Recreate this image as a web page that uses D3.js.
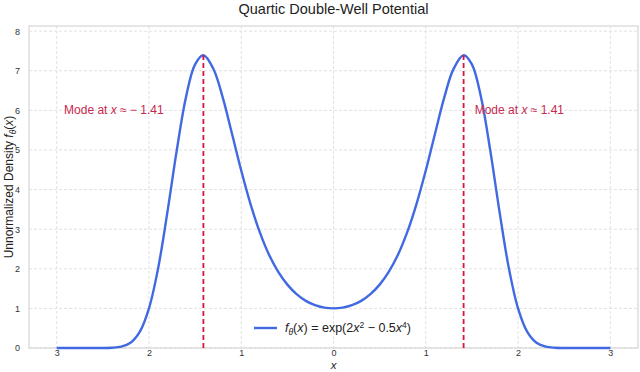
<!DOCTYPE html>
<html>
<head>
<meta charset="utf-8">
<script src="https://cdn.jsdelivr.net/npm/d3@7"></script>
<style>
  body { margin: 0; background: #fff; }
  svg text { font-family: "Liberation Sans", Arial, sans-serif; }
</style>
</head>
<body>
<div id="chart"></div>
<script>
// curve samples (x, unnormalized density)
const xs = [-3, -2.9, -2.8, -2.7, -2.6, -2.5, -2.4, -2.3, -2.2, -2.1, -2, -1.9, -1.8, -1.7, -1.6, -1.5,
    -1.41, -1.3, -1.2, -1.1, -1, -0.9, -0.8, -0.7, -0.6, -0.5, -0.4, -0.3, -0.2, -0.1, 0,
    0.1, 0.2, 0.3, 0.4, 0.5, 0.6, 0.7, 0.8, 0.9, 1, 1.1, 1.2, 1.3, 1.41, 1.5, 1.6, 1.7, 1.8, 1.9,
    2, 2.1, 2.2, 2.3, 2.4, 2.5, 2.6, 2.7, 2.8, 2.9, 3];
const density = [0, 0, 0, 0, 0.0001, 0.0009, 0.006, 0.033, 0.131, 0.405, 1.0, 2.02, 3.43, 4.97, 6.32, 7.16,
    7.39, 7.04, 6.32, 5.41, 4.48, 3.64, 2.93, 2.36, 1.93, 1.60, 1.36, 1.19, 1.08, 1.02, 1.0,
    1.02, 1.08, 1.19, 1.36, 1.60, 1.93, 2.36, 2.93, 3.64, 4.48, 5.41, 6.32, 7.04, 7.39, 7.16, 6.32, 4.97, 3.43, 2.02,
    1.0, 0.405, 0.131, 0.033, 0.006, 0.0009, 0.0001, 0, 0, 0, 0];
const modes = [-1.41, 1.41];
const modePeak = 7.39;
const modeLabels = ["-1.41", "1.41"];
const xTicks = [-3, -2, -1, 0, 1, 2, 3];
const xTickLabels = ["3", "2", "1", "0", "1", "2", "3"];
const yTicks = [0, 1, 2, 3, 4, 5, 6, 7, 8];

const width = 640, height = 372;
const margin = {top: 26, right: 2, bottom: 24, left: 29};
const plotW = width - margin.left - margin.right,
    plotH = height - margin.top - margin.bottom;

const svg = d3.select("#chart").append("svg")
    .attr("width", width)
    .attr("height", height);

const g = svg.append("g")
    .attr("transform", "translate(" + margin.left + "," + margin.top + ")");

const x = d3.scaleLinear().domain([-3.3, 3.3]).range([0, plotW]);
const y = d3.scaleLinear().domain([0, 8.13]).range([plotH, 0]);

// grid
g.append("g").selectAll("line")
    .data(xTicks).enter().append("line")
    .attr("x1", d => x(d)).attr("x2", d => x(d))
    .attr("y1", 0).attr("y2", plotH)
    .attr("stroke", "#d9d9d9").attr("stroke-width", 0.8).attr("stroke-dasharray", "3,2");
g.append("g").selectAll("line")
    .data(yTicks).enter().append("line")
    .attr("x1", 0).attr("x2", plotW)
    .attr("y1", d => y(d)).attr("y2", d => y(d))
    .attr("stroke", "#d9d9d9").attr("stroke-width", 0.8).attr("stroke-dasharray", "3,2");

// frame
g.append("rect")
    .attr("width", plotW).attr("height", plotH)
    .attr("fill", "none").attr("stroke", "#d6d6d6").attr("stroke-width", 1.2);

// axes
const xAxis = g.append("g")
    .attr("transform", "translate(0," + plotH + ")")
    .call(d3.axisBottom(x).tickValues(xTicks).tickSize(0).tickPadding(2)
        .tickFormat((d, i) => xTickLabels[i]));
const yAxis = g.append("g")
    .call(d3.axisLeft(y).tickValues(yTicks).tickSize(0).tickPadding(9)
        .tickFormat(d3.format("d")));
[xAxis, yAxis].forEach(a => {
    a.select(".domain").remove();
    a.selectAll("text").attr("fill", "#333").style("font-size", "9px")
        .style("font-family", "'Liberation Sans', Arial, sans-serif");
});

// curve
const pts = xs.map((v, i) => [v, density[i]]);
const line = d3.line().x(d => x(d[0])).y(d => y(d[1])).curve(d3.curveCatmullRom);
g.append("path")
    .datum(pts)
    .attr("d", line)
    .attr("fill", "none")
    .attr("stroke", "#4169e1")
    .attr("stroke-width", 2.4);

// mode markers
g.selectAll(".mode").data(modes).enter().append("line")
    .attr("class", "mode")
    .attr("x1", d => x(d)).attr("x2", d => x(d))
    .attr("y1", y(0)).attr("y2", y(modePeak))
    .attr("stroke", "#dc143c").attr("stroke-width", 1.8).attr("stroke-dasharray", "5,3");

const modeText = g.selectAll(".modeText").data(modes).enter().append("text")
    .attr("class", "modeText")
    .attr("x", d => d < 0 ? x(-2.92) : x(d + 0.12))
    .attr("y", y(6) + 4)
    .attr("fill", "#c8294f")
    .style("font-size", "12px");
modeText.append("tspan").text("Mode at ");
modeText.append("tspan").attr("font-style", "italic").text("x");
modeText.append("tspan").text((d, i) => " \u2248 " + (modes[i] < 0 ? "\u2212 " + modeLabels[i].slice(1) : modeLabels[i]));

// legend
const lg = g.append("g").attr("transform", "translate(" + (254 - margin.left) + "," + (328 - margin.top) + ")");
lg.append("line").attr("x1", 0).attr("x2", 23).attr("y1", 0).attr("y2", 0)
    .attr("stroke", "#4169e1").attr("stroke-width", 2.4);
const lt = lg.append("text").attr("x", 31).attr("y", 4).attr("fill", "#222").style("font-size", "12.5px");
lt.append("tspan").attr("font-style", "italic").text("f");
lt.append("tspan").attr("font-style", "italic").attr("dy", 3).style("font-size", "8.5px").text("\u03b8");
lt.append("tspan").attr("dy", -3).text("(");
lt.append("tspan").attr("font-style", "italic").text("x");
lt.append("tspan").text(") = exp(2");
lt.append("tspan").attr("font-style", "italic").text("x");
lt.append("tspan").attr("dy", -4).style("font-size", "8.5px").text("2");
lt.append("tspan").attr("dy", 4).text(" \u2212 0.5");
lt.append("tspan").attr("font-style", "italic").text("x");
lt.append("tspan").attr("dy", -4).style("font-size", "8.5px").text("4");
lt.append("tspan").attr("dy", 4).text(")");

// title and axis labels
svg.append("text")
    .attr("x", margin.left + plotW / 2).attr("y", 14)
    .attr("text-anchor", "middle").attr("fill", "#222")
    .style("font-size", "14.5px")
    .text("Quartic Double-Well Potential");

svg.append("text")
    .attr("x", margin.left + x(0)).attr("y", 369)
    .attr("text-anchor", "middle").attr("fill", "#222")
    .attr("font-style", "italic").style("font-size", "11.5px")
    .text("x");

const yl = svg.append("text")
    .attr("transform", "translate(13," + (margin.top + plotH / 2) + ") rotate(-90)")
    .attr("text-anchor", "middle").attr("fill", "#222")
    .style("font-size", "12px");
yl.append("tspan").text("Unnormalized Density ");
yl.append("tspan").attr("font-style", "italic").text("f");
yl.append("tspan").attr("font-style", "italic").attr("dy", 3).style("font-size", "8.5px").text("\u03b8");
yl.append("tspan").attr("dy", -3).text("(");
yl.append("tspan").attr("font-style", "italic").text("x");
yl.append("tspan").text(")");
</script>
</body>
</html>
